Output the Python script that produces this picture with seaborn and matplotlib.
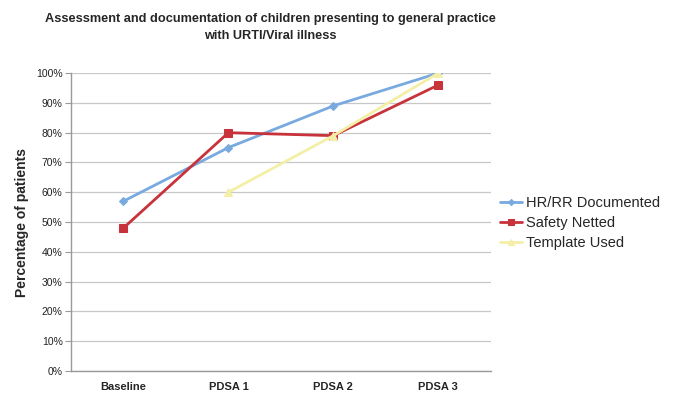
import matplotlib
matplotlib.use("Agg")
import matplotlib.pyplot as plt
import seaborn as sns
import pandas as pd
import numpy as np

categories = ["Baseline", "PDSA 1", "PDSA 2", "PDSA 3"]
hr_rr = [57, 75, 89, 100]
safety = [48, 80, 79, 96]
template = [np.nan, 60, 79, 100]
series_names = ["HR/RR Documented", "Safety Netted", "Template Used"]
yticks = list(range(0, 101, 10))

df = pd.DataFrame({
    "cat": categories * 3,
    "val": hr_rr + safety + template,
    "series": [series_names[0]] * 4 + [series_names[1]] * 4 + [series_names[2]] * 4,
})

sns.set_style("white")
plt.rcParams["font.family"] = ["Liberation Sans", "DejaVu Sans"]

fig = plt.figure(figsize=(6.76, 3.93), dpi=100)
ax = fig.add_axes([0.105, 0.056, 0.621, 0.758])

palette = {series_names[0]: "#78A9DF", series_names[1]: "#C8323A", series_names[2]: "#F4EFA6"}
markers = {series_names[0]: "D", series_names[1]: "s", series_names[2]: "^"}
msizes = {series_names[0]: 4.5, series_names[1]: 6, series_names[2]: 6}

for name in series_names:
    sub = df[df.series == name]
    sns.lineplot(data=sub, x="cat", y="val", ax=ax, color=palette[name], linewidth=2.0,
                 marker=markers[name], markersize=msizes[name], markeredgecolor=palette[name],
                 label=name, sort=False)

ax.set_xlim(-0.5, 3.5)
ax.set_ylim(0, 100)
ax.set_yticks(yticks)
ax.set_yticklabels([f"{t}%" for t in yticks], fontsize=7.5, color="#222222")
ax.set_xticks(range(4))
ax.set_xticklabels(categories, fontsize=8, fontweight="bold")
ax.set_xticks([0.5, 1.5, 2.5], minor=True)
ax.tick_params(axis="x", which="major", length=0, pad=8)
ax.tick_params(axis="x", which="minor", length=3, color="#999999")
ax.tick_params(axis="y", length=4, color="#999999", pad=2, left=True)
ax.grid(axis="y", color="#C8C8C8", linewidth=0.9)
ax.set_axisbelow(True)
for s in ["top", "right"]:
    ax.spines[s].set_visible(False)
for s in ["left", "bottom"]:
    ax.spines[s].set_color("#999999")
    ax.spines[s].set_linewidth(1.0)
ax.set_xlabel("")
ax.set_ylabel("Percentage of patients", fontsize=10, fontweight="bold", labelpad=5)

leg = ax.legend(loc="upper left", bbox_to_anchor=(0.99, 0.63), frameon=False, fontsize=10.5,
                handlelength=1.5, handletextpad=0.3, labelspacing=0.4, markerscale=0.7)

fig.text(0.40, 0.93, "Assessment and documentation of children presenting to general practice\nwith URTI/Viral illness",
         ha="center", va="center", fontsize=9.2, fontweight="bold", linespacing=1.45)

fig.savefig("out.png", dpi=100)
